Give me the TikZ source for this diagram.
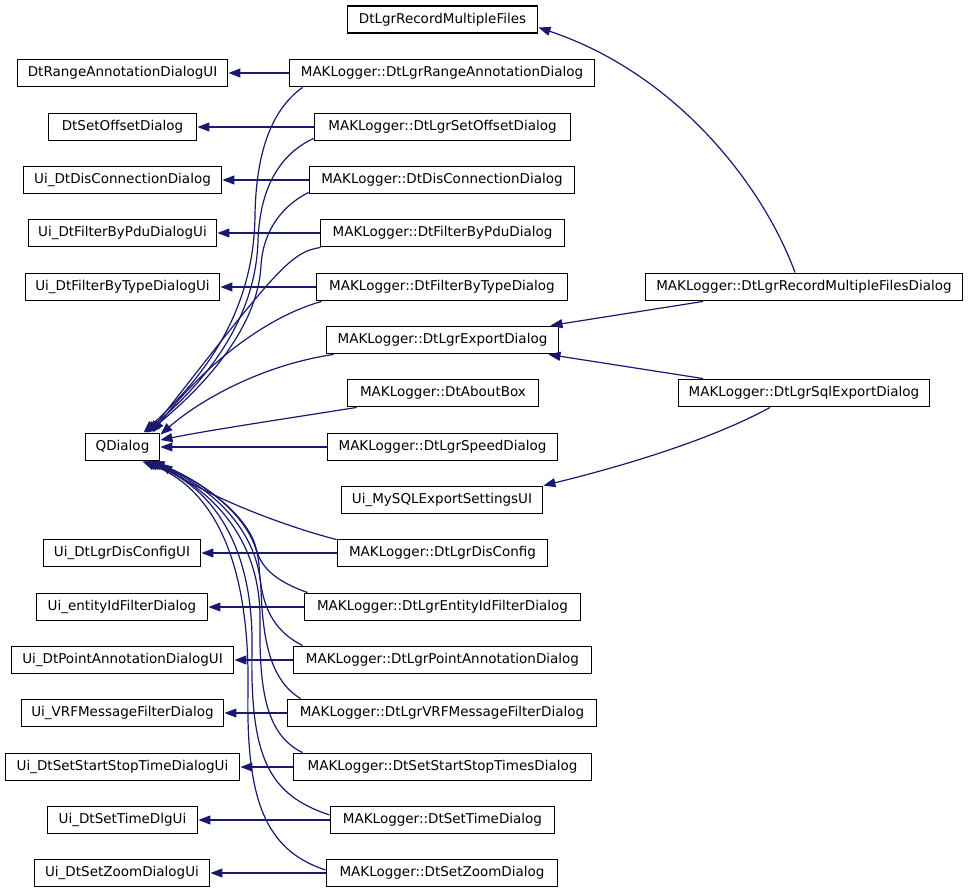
\documentclass[tikz,border=0pt]{standalone}
\usepackage{fontspec}
\setmainfont{DejaVu Sans}
\usetikzlibrary{arrows.meta}
\definecolor{edgeblue}{HTML}{191970}
\begin{document}
\begin{tikzpicture}[x=1pt,y=-1pt,
  cls/.style={draw=black, line width=1.9pt, minimum height=27pt, inner sep=0pt,
    font=\fontsize{13.5}{16}\selectfont},
  inh/.style={draw=edgeblue, line width=1.2pt, -{Triangle[length=12pt,width=9pt]}}]
\fill[white] (0,0) rectangle (968,893);
\useasboundingbox (0,0) rectangle (968,893);

% nodes
\node[cls, minimum width=190pt] (rmf) at (442.5,19.5) {DtLgrRecordMultipleFiles};
\node[cls, minimum width=210pt] (uRange) at (122.5,73) {DtRangeAnnotationDialogUI};
\node[cls, minimum width=305pt] (mRange) at (442,73) {MAKLogger::DtLgrRangeAnnotationDialog};
\node[cls, minimum width=148pt] (uOff) at (122.5,127) {DtSetOffsetDialog};
\node[cls, minimum width=256pt] (mOff) at (442.5,127) {MAKLogger::DtLgrSetOffsetDialog};
\node[cls, minimum width=198pt] (uDis) at (122.5,180) {Ui\_DtDisConnectionDialog};
\node[cls, minimum width=265pt] (mDis) at (442,180) {MAKLogger::DtDisConnectionDialog};
\node[cls, minimum width=188pt] (uPdu) at (122.5,233) {Ui\_DtFilterByPduDialogUi};
\node[cls, minimum width=244pt] (mPdu) at (442.5,233) {MAKLogger::DtFilterByPduDialog};
\node[cls, minimum width=194pt] (uType) at (122.5,287) {Ui\_DtFilterByTypeDialogUi};
\node[cls, minimum width=251pt] (mType) at (442,287) {MAKLogger::DtFilterByTypeDialog};
\node[cls, minimum width=317pt] (rmfd) at (804,287) {MAKLogger::DtLgrRecordMultipleFilesDialog};
\node[cls, minimum width=232pt] (exp) at (442.5,340) {MAKLogger::DtLgrExportDialog};
\node[cls, minimum width=191pt] (about) at (443,393) {MAKLogger::DtAboutBox};
\node[cls, minimum width=251pt] (sql) at (804,393) {MAKLogger::DtLgrSqlExportDialog};
\node[cls, minimum width=74pt] (qd) at (122.5,447) {QDialog};
\node[cls, minimum width=230pt] (speed) at (442.5,447) {MAKLogger::DtLgrSpeedDialog};
\node[cls, minimum width=201pt] (mysql) at (442,500) {Ui\_MySQLExportSettingsUI};
\node[cls, minimum width=157pt] (uCfg) at (122,553) {Ui\_DtLgrDisConfigUI};
\node[cls, minimum width=210pt] (mCfg) at (442.5,553) {MAKLogger::DtLgrDisConfig};
\node[cls, minimum width=171pt] (uEnt) at (122,607) {Ui\_entityIdFilterDialog};
\node[cls, minimum width=276pt] (mEnt) at (442.5,607) {MAKLogger::DtLgrEntityIdFilterDialog};
\node[cls, minimum width=222pt] (uPt) at (122.5,660) {Ui\_DtPointAnnotationDialogUI};
\node[cls, minimum width=298pt] (mPt) at (442.5,660) {MAKLogger::DtLgrPointAnnotationDialog};
\node[cls, minimum width=202pt] (uVrf) at (122.5,713) {Ui\_VRFMessageFilterDialog};
\node[cls, minimum width=309pt] (mVrf) at (442,713) {MAKLogger::DtLgrVRFMessageFilterDialog};
\node[cls, minimum width=234pt] (uSS) at (122.5,767) {Ui\_DtSetStartStopTimeDialogUi};
\node[cls, minimum width=298pt] (mSS) at (442.5,767) {MAKLogger::DtSetStartStopTimesDialog};
\node[cls, minimum width=150pt] (uTime) at (122.5,820) {Ui\_DtSetTimeDlgUi};
\node[cls, minimum width=224pt] (mTime) at (442.5,820) {MAKLogger::DtSetTimeDialog};
\node[cls, minimum width=175pt] (uZoom) at (122,873) {Ui\_DtSetZoomDialogUi};
\node[cls, minimum width=231pt] (mZoom) at (442,873) {MAKLogger::DtSetZoomDialog};

% straight inheritance from UI classes
\draw[inh] (mRange) -- (uRange);
\draw[inh] (mOff) -- (uOff);
\draw[inh] (mDis) -- (uDis);
\draw[inh] (mPdu) -- (uPdu);
\draw[inh] (mType) -- (uType);
\draw[inh] (mCfg) -- (uCfg);
\draw[inh] (mEnt) -- (uEnt);
\draw[inh] (mPt) -- (uPt);
\draw[inh] (mVrf) -- (uVrf);
\draw[inh] (mSS) -- (uSS);
\draw[inh] (mTime) -- (uTime);
\draw[inh] (mZoom) -- (uZoom);

% to QDialog, upper group
\draw[inh] ([xshift=14pt]mRange.south west) .. controls (268,112) and (256,160) .. (255,215)
  .. controls (254,320) and (195,385) .. ([xshift=21pt]qd.north);
\draw[inh] ([yshift=3pt]mOff.south west) .. controls (278,155) and (260,190) .. (258,240)
  .. controls (256,325) and (198,388) .. ([xshift=23pt]qd.north);
\draw[inh] ([yshift=2pt]mDis.south west) .. controls (278,208) and (263,235) .. (261,265)
  .. controls (258,330) and (200,390) .. ([xshift=25pt]qd.north);
\draw[inh] ([xshift=1pt]mPdu.south west) .. controls (290,252) and (275,272) .. ([xshift=27pt]qd.north);
\draw[inh] ([xshift=6pt]mType.south west) .. controls (262,318) and (200,370) .. ([xshift=30pt]qd.north);
\draw[inh] ([xshift=8pt]exp.south west) .. controls (262,365) and (200,400) .. ([yshift=-2pt]qd.north east);
\draw[inh] ([xshift=10pt]about.south west) .. controls (290,418) and (210,430) .. ([yshift=7pt]qd.east);
\draw[inh] (speed) -- (qd);

% to QDialog, lower group
\draw[inh] ([yshift=-1pt]mCfg.north west) .. controls (280,525) and (205,495) .. ([yshift=-2pt]qd.south east);
\draw[inh] ([xshift=4pt]mEnt.north west) .. controls (272,580) and (260,565) .. (256,548)
  .. controls (248,515) and (200,480) .. ([xshift=30pt]qd.south);
\draw[inh] ([xshift=10pt]mPt.north west) .. controls (272,630) and (261,605) .. (259,565)
  .. controls (256,520) and (205,482) .. ([xshift=28pt]qd.south);
\draw[inh] ([xshift=14pt]mVrf.north west) .. controls (270,680) and (263,640) .. (261,590)
  .. controls (259,530) and (210,485) .. ([xshift=26pt]qd.south);
\draw[inh] ([xshift=10pt]mSS.north west) .. controls (266,735) and (259,690) .. (260,620)
  .. controls (261,540) and (212,488) .. ([xshift=24pt]qd.south);
\draw[inh] ([yshift=5pt]mTime.west) .. controls (270,795) and (250,760) .. (252,650)
  .. controls (254,540) and (208,485) .. ([xshift=22pt]qd.south);
\draw[inh] ([yshift=3pt]mZoom.west) .. controls (265,850) and (246,800) .. (248,690)
  .. controls (250,555) and (210,487) .. ([xshift=20pt]qd.south);

% right side
\draw[inh] ([xshift=-9pt]rmfd.north) .. controls (765,190) and (680,75) .. ([yshift=-8pt]rmf.east);
\draw[inh] ([xshift=-101pt]rmfd.south) -- ([xshift=-9pt]exp.north east);
\draw[inh] ([xshift=-101pt]sql.north) -- ([xshift=-11pt]exp.south east);
\draw[inh] ([xshift=-34pt]sql.south) .. controls (720,435) and (640,462) .. (mysql.north east);
\end{tikzpicture}
\end{document}
